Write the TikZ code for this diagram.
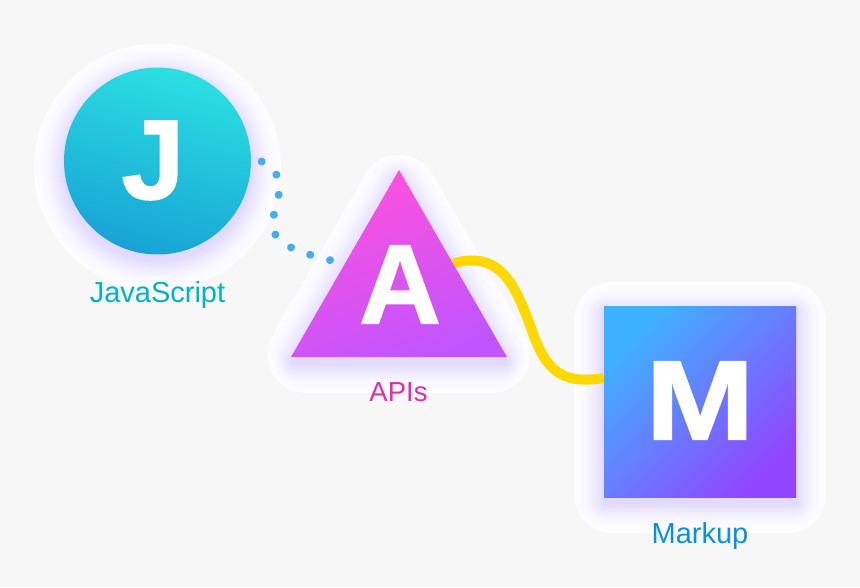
\documentclass[tikz,border=0pt]{standalone}
\usepackage{fontspec}
\usepackage{xcolor}
\setmainfont{Liberation Sans}
\font\letterfont="Liberation Sans/B:embolden=1.5" at 113pt
\usetikzlibrary{calc,backgrounds,shapes.geometric}
\definecolor{color_page}{HTML}{f7f7f7}
\definecolor{color_glow_in}{HTML}{e0d8ff}
\definecolor{color_glow_out}{HTML}{fdfcff}
\definecolor{color_dots}{HTML}{42adfb}
\definecolor{color_yellow}{HTML}{ffd800}
\definecolor{color_label_js}{HTML}{00b4c8}
\definecolor{color_label_apis}{HTML}{e02cb4}
\definecolor{color_label_markup}{HTML}{0a90e0}
\definecolor{color_js_top}{HTML}{2cdfe2}
\definecolor{color_js_bottom}{HTML}{17a3d5}
\definecolor{color_apis_top}{HTML}{ff50dc}
\definecolor{color_apis_bottom}{HTML}{c055ff}
\definecolor{color_markup_top}{HTML}{3fb2ff}
\definecolor{color_markup_bottom}{HTML}{9046ff}
\begin{document}
\begin{tikzpicture}[x=1pt,y=-1pt,
	letter/.style={white,font=\letterfont,inner sep=0pt},
	tag/.style={font=\fontsize{29}{30}\selectfont,inner sep=0pt},
	glow_layer/.style={draw=#1,fill=#1,line join=round},
	]
	\useasboundingbox (0,0) rectangle (860,587);
	% Shapes
	\node[circle,minimum size=187pt,inner sep=0pt,top color=color_js_top,bottom color=color_js_bottom,shading angle=-15] (node_js) at (157.5,161) {};
	\node[regular polygon,regular polygon sides=3,minimum size=249.4pt,inner sep=0pt,top color=color_apis_top,bottom color=color_apis_bottom,shading angle=20] (node_apis) at (399,294.7) {};
	\node[rectangle,minimum width=192pt,minimum height=191pt,inner sep=0pt,top color=color_markup_top,bottom color=color_markup_bottom,shading angle=45] (node_markup) at (700,401.5) {};

	% Letters
	\node[letter] (letter_j) at (153,160.5) {J};
	\node[letter] (letter_a) at (400,284.5) {A};
	\node[letter,xscale=1.15] (letter_m) at (700,400.5) {M};

	% Labels
	\node[tag,color_label_js] (label_js) at (157.5,295) {JavaScript};
	\node[tag,color_label_apis,font=\fontsize{27.5}{30}\selectfont] (label_apis) at (398.5,392) {APIs};
	\node[tag,color_label_markup] (label_markup) at (700,536) {Markup};

	\begin{scope}[on background layer]
		\fill[color_page] (0,0) rectangle (860,587);

		% Glow
		\foreach \off in {30,29,...,1} {
			\pgfmathsetmacro{\pct}{100*(1-\off/31)^2}
			\fill[color_glow_in!\pct!color_glow_out] (157.5,167) circle({93.5+\off});
		}
		\foreach \off in {30,29,...,1} {
			\pgfmathsetmacro{\pct}{100*(1-\off/31)^2}
			\pgfmathsetmacro{\ins}{0.3*\off}
			\draw[glow_layer=color_glow_in!\pct!color_glow_out,line width={2*(\off+\ins)}]
				(399,{176+2*\ins}) --
				({291+1.732*\ins},{363-\ins}) --
				({507-1.732*\ins},{363-\ins}) --
				cycle;
		}
		\foreach \off in {30,29,...,1} {
			\pgfmathsetmacro{\pct}{100*(1-\off/31)^2}
			\pgfmathsetmacro{\ins}{0.3*\off}
			\draw[glow_layer=color_glow_in!\pct!color_glow_out,line width={2*(\off+\ins)}]
				({604+\ins},{312+\ins}) rectangle ({796-\ins},{503-\ins});
		}

		% Connectors
		\draw[color_dots,line width=8pt,line cap=round,dash pattern=on 0.01pt off 20.5pt,dash phase=10pt]
			(node_js.east) .. controls (270,158) and (281,175) .. (279,192)
			.. controls (277,212) and (266,225) .. (278,238)
			.. controls (288,250) and (315,257) .. (node_apis.side 1);
		\coordinate (markup_in) at ($(node_markup.north west)!0.377!(node_markup.south west)$);
		\draw[color_yellow,line width=10pt]
			(node_apis.side 3) .. controls (500,250) and (515,285) .. (530,325)
			.. controls (545,370) and (560,385) .. (markup_in);
	\end{scope}
\end{tikzpicture}
\end{document}
